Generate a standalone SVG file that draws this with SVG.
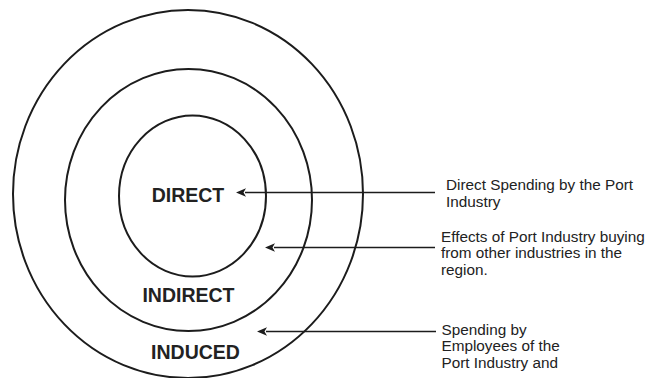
<svg xmlns="http://www.w3.org/2000/svg" width="654" height="378" viewBox="0 0 654 378">
  <style>
    .ring { fill: none; stroke: #1c1c1c; stroke-width: 2; }
    .ringlabel { font-family: "Liberation Sans", Arial, sans-serif; font-weight: bold; font-size: 19.5px; fill: #222; text-anchor: middle; }
    .note { font-family: "Liberation Sans", Arial, sans-serif; font-size: 15.3px; fill: #222; }
    .link { stroke: #1c1c1c; stroke-width: 1.6; fill: none; marker-end: url(#head); }
  </style>
  <defs>
    <marker id="head" viewBox="0 0 10 10" refX="1" refY="5" markerWidth="10" markerHeight="10" markerUnits="userSpaceOnUse" orient="auto">
      <path d="M10,5 L0,0.8 L2.5,5 L0,9.2 Z" fill="#1c1c1c"/>
    </marker>
  </defs>
  <rect width="654" height="378" fill="#fff"/>

  <g id="induced">
    <ellipse class="ring" cx="188" cy="194" rx="175" ry="184"/>
    <text class="ringlabel" x="195.5" y="359">INDUCED</text>
  </g>
  <g id="indirect">
    <ellipse class="ring" cx="188.5" cy="200" rx="123.5" ry="131"/>
    <text class="ringlabel" x="188.5" y="302">INDIRECT</text>
  </g>
  <g id="direct">
    <ellipse class="ring" cx="192.5" cy="196" rx="73.5" ry="80.5"/>
    <text class="ringlabel" x="188" y="202">DIRECT</text>
  </g>

  <g id="connectors">
    <line class="link" x1="435" y1="192.5" x2="245" y2="192.5"/>
    <line class="link" x1="435" y1="247.5" x2="274" y2="247.5"/>
    <line class="link" x1="436" y1="331.5" x2="266" y2="331.5"/>
  </g>

  <g id="note-direct">
    <text class="note" x="446" y="190">Direct Spending by the Port</text>
    <text class="note" x="446" y="206.5">Industry</text>
  </g>
  <g id="note-indirect">
    <text class="note" x="441" y="241.5">Effects of Port Industry buying</text>
    <text class="note" x="441" y="258">from other industries in the</text>
    <text class="note" x="441" y="274.5">region.</text>
  </g>
  <g id="note-induced">
    <text class="note" x="441.5" y="334.5">Spending by</text>
    <text class="note" x="441.5" y="351">Employees of the</text>
    <text class="note" x="441.5" y="367.5">Port Industry and</text>
  </g>
</svg>
